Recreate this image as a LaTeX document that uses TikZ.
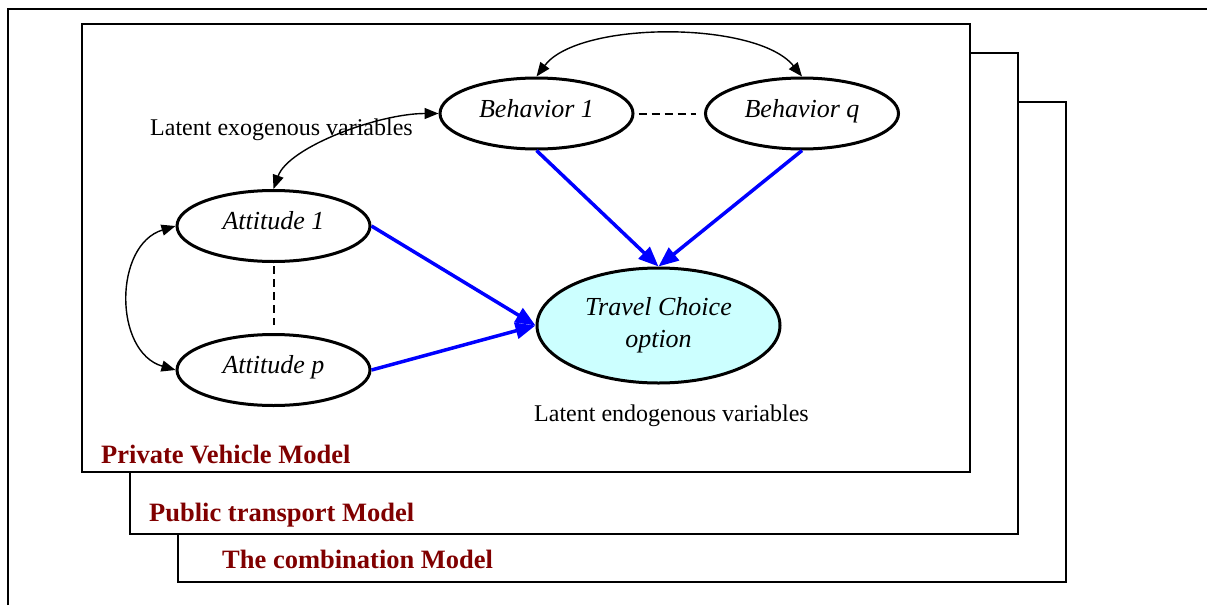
\documentclass[tikz,border=0pt]{standalone}
\usepackage{fontspec}
\setmainfont{Liberation Serif}
\usetikzlibrary{shapes.geometric,arrows.meta}
\definecolor{modelred}{RGB}{128,0,0}
\definecolor{choicefill}{RGB}{204,255,255}
\definecolor{pathblue}{RGB}{0,0,255}

\begin{document}
\begin{tikzpicture}[x=1pt,y=-1pt,
  frame/.style={draw=black,line width=2pt,fill=white},
  latent/.style={ellipse,draw=black,line width=3pt,minimum width=193pt,minimum height=71pt,
    inner sep=0pt,font=\fontsize{26}{32}\selectfont\itshape,text height=18pt,text depth=11pt},
  choice/.style={ellipse,draw=black,line width=3pt,fill=choicefill,minimum width=243pt,
    minimum height=115pt,inner sep=0pt,align=center,font=\fontsize{26}{32}\selectfont\itshape},
  modellabel/.style={anchor=base west,inner sep=0pt,text=modelred,font=\fontsize{26.5}{30}\selectfont\bfseries},
  note/.style={anchor=base west,inner sep=0pt,font=\fontsize{24}{28}\selectfont},
  effect/.style={draw=pathblue,line width=3.5pt,-{Triangle[length=20pt,width=16pt]}},
  corr/.style={draw=black,line width=1.4pt,{Triangle[length=14pt,width=11pt]}-{Triangle[length=14pt,width=11pt]}},
  link/.style={draw=black,line width=2pt,dash pattern=on 8pt off 5pt}]
\useasboundingbox (0,0) rectangle (1207,605);

% outer frame, running off the page on the right and bottom
\draw[line width=2pt] (8,605) -- (8,9) -- (1207,9);

% stacked model sheets, back to front
\draw[frame] (178,102) rectangle (1066,582);
\draw[frame] (130,53) rectangle (1018,534);
\draw[frame] (82,24) rectangle (970,472);

\node[modellabel] (pvm) at (101,463) {Private Vehicle Model};
\node[modellabel] (ptm) at (149,521) {Public transport Model};
\node[modellabel] (tcm) at (222,568) {The combination Model};

% latent variables
\node[latent] (b1) at (536.5,113.5) {Behavior 1};
\node[latent] (bq) at (802,113.5) {Behavior q};
\node[latent] (a1) at (273.5,226) {Attitude 1};
\node[latent] (ap) at (273.5,370) {Attitude p};
\node[choice] (tc) at (658.5,325.5) {Travel Choice\\option};

\node[note] (exo) at (150,135) {Latent exogenous variables};
\node[note] (endo) at (534,421) {Latent endogenous variables};

% structural effects
\draw[effect] (a1.east) -- (tc.west);
\draw[effect] (ap.east) -- (tc.west);
\draw[effect] (b1.south) -- (tc.north);
\draw[effect] (bq.south) -- (tc.north);

% omitted intermediate variables
\draw[link,shorten <=4pt,shorten >=8pt] (b1.east) -- (bq.west);
\draw[link,shorten <=3pt,shorten >=8pt] (a1.south) -- (ap.north);

% correlations
\draw[corr] (b1.north) .. controls +(42,-56) and +(-45,-56) .. (bq.north);
\draw[corr] (b1.west) .. controls +(-60,0) and +(15,-42) .. (a1.north);
\draw[corr] (a1.west) .. controls +(-62,19) and +(-62,-18) .. (ap.west);
\end{tikzpicture}
\end{document}
